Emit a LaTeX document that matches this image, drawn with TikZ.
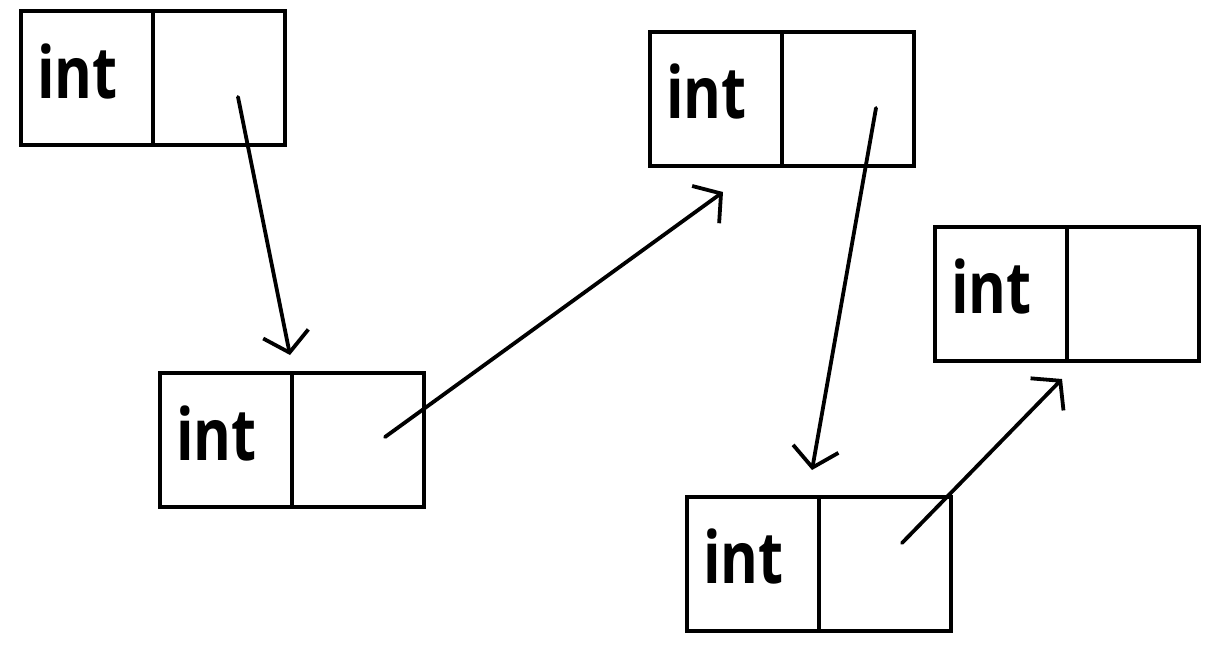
\documentclass[tikz,border=0pt]{standalone}
\usepackage{fontspec}
\newfontfamily\intfont{Open Sans}
\usetikzlibrary{arrows.meta}
\tikzset{
  cell/.style={draw, line width=4.4pt, minimum width=132pt, minimum height=134pt, inner sep=0pt, outer sep=0pt},
  lbl/.style={anchor=base west, inner sep=0pt, font=\intfont\bfseries\fontsize{72}{72}\selectfont},
  link/.style={line width=3.8pt, line cap=round, -{Straight Barb[length=19pt,width=46pt]}}
}
\newcommand{\intbox}[4]{% name, left, top, baseline
  \node[cell] (#1a) at (#2+66, #3+67) {};
  \node[cell] (#1b) at (#2+198, #3+67) {};
  \node[lbl] (#1t) at (#2+16, #4) {\scalebox{0.8}[1]{int}};
}
\begin{document}
\begin{tikzpicture}[x=1pt, y=-1pt]
  \useasboundingbox (0,0) rectangle (1214,657);
  \intbox{b1}{21}{11}{98}
  \intbox{b2}{160}{373}{460}
  \intbox{b3}{650}{32}{118}
  \intbox{b4}{935}{227}{313}
  \intbox{b5}{687}{497}{583}
  \coordinate (s1) at (238,97);
  \coordinate (e1) at (290,355);
  \coordinate (s2) at (385,437);
  \coordinate (e2) at (723,192);
  \coordinate (s3) at (876,108);
  \coordinate (e3) at (812,470);
  \coordinate (s4) at (902,543);
  \coordinate (e4) at (1062,379);
  \draw[link] (s1) -- (e1);
  \draw[link] (s2) -- (e2);
  \draw[link] (s3) -- (e3);
  \draw[link] (s4) -- (e4);
\end{tikzpicture}
\end{document}
